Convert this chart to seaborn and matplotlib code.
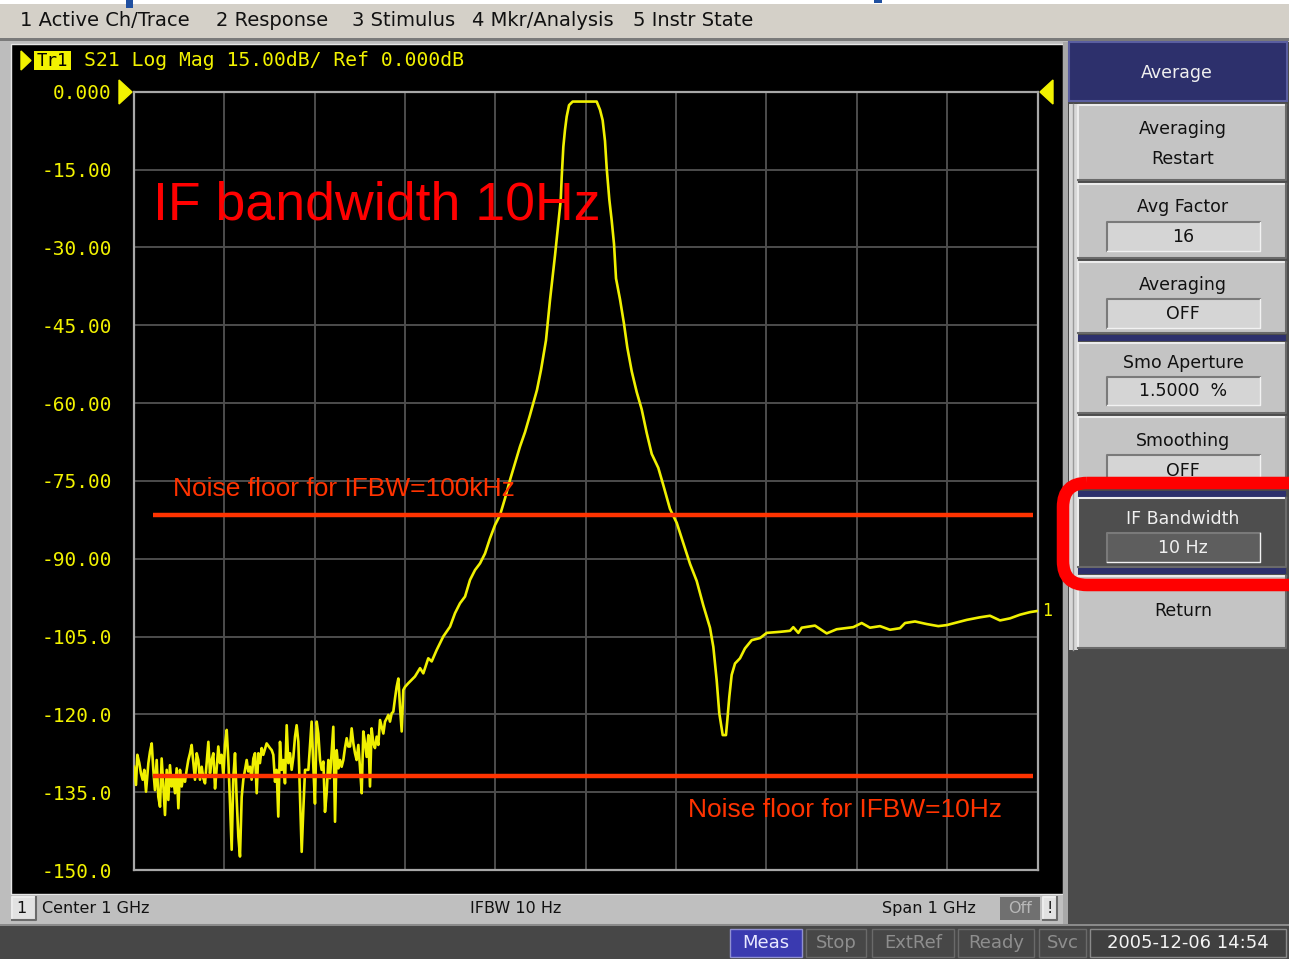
import matplotlib
matplotlib.use("Agg")
import matplotlib.pyplot as plt
from matplotlib.patches import Rectangle, FancyBboxPatch, Polygon
import numpy as np
import pandas as pd
import seaborn as sns

# ---------------------------------------------------------------- data
# S21 sweep, 500 MHz .. 1500 MHz (centre 1 GHz, span 1 GHz), IFBW 10 Hz
noise_lo_mhz = [500.0, 502.2, 503.7, 505.9, 507.7, 509.6, 511.4, 513.3, 515.9, 517.7,
                519.6, 521.4, 523.2, 525.1, 526.9, 528.8, 530.6, 532.5, 534.3, 536.2,
                538.0, 539.8, 541.7, 543.5, 545.4, 547.2, 549.1, 550.9, 552.8, 554.6,
                556.4, 558.3, 560.1, 562.0, 563.8, 565.7, 567.5, 569.4, 571.2, 573.0,
                574.9, 576.7, 578.6, 580.4, 582.3, 584.1, 586.0, 587.8, 589.7, 591.5,
                593.3, 595.2, 597.0, 598.9, 600.7, 602.6, 604.4, 606.3, 608.1, 609.9,
                611.8, 613.6, 615.5, 617.3, 619.2, 621.0, 622.9, 624.7, 626.5, 628.4,
                630.2, 632.1, 633.9, 635.8, 637.6, 639.4, 641.3, 643.1, 646.8]
noise_lo_db = [-130.1, -133.6, -127.8, -129.4, -131.4, -132.6, -130.7, -134.9, -129.4, -127.2,
               -125.6, -130.7, -134.6, -128.8, -135.9, -137.8, -128.5, -133.9, -139.4, -130.7,
               -136.5, -129.8, -133.9, -132.3, -135.2, -130.4, -138.1, -130.7, -133.9, -131.7,
               -133.0, -130.7, -128.8, -127.5, -125.9, -129.4, -132.6, -127.5, -128.8, -132.6,
               -130.1, -132.3, -133.3, -129.4, -125.3, -131.4, -128.8, -127.5, -134.3, -130.4,
               -126.2, -129.4, -127.8, -132.0, -125.9, -123.0, -128.8, -137.2, -146.1, -132.3,
               -127.5, -136.2, -143.6, -147.4, -135.9, -132.6, -130.7, -128.8, -131.0, -130.1,
               -132.6, -128.5, -127.5, -135.2, -127.5, -129.4, -126.5, -127.8, -125.6]

noise_hi_mhz = [650.5, 652.4, 654.2, 656.1, 657.9, 659.7, 661.6, 663.4, 665.3, 667.1,
                669.0, 670.8, 672.7, 674.5, 676.4, 678.2, 680.0, 681.9, 683.7, 685.6,
                687.4, 689.3, 691.1, 693.0, 694.8, 696.6, 698.5, 700.3, 702.2, 704.0,
                705.9, 707.7, 709.6, 711.4, 713.2, 715.1, 716.9, 718.8, 720.6, 722.5,
                724.3, 726.2, 728.0, 729.8, 731.7, 733.5, 735.4, 737.2, 739.1, 740.9,
                742.8, 744.6, 746.4, 748.3, 750.1, 752.0, 753.8, 755.7, 757.5, 759.4,
                761.2, 763.0, 764.9, 766.7, 768.6, 770.4, 772.3, 774.1, 776.0, 777.8,
                779.7, 781.5, 783.3, 785.2, 787.0, 788.9, 790.7, 792.6, 794.4, 796.3,
                798.1, 800.0, 803.6]
noise_hi_db = [-126.5, -126.9, -127.8, -133.0, -130.7, -139.7, -125.3, -130.7, -128.8, -133.3,
               -122.1, -129.4, -127.5, -130.7, -128.2, -124.3, -122.1, -125.3, -135.9, -146.5,
               -138.4, -130.7, -130.7, -130.7, -126.2, -121.4, -130.1, -137.2, -121.4, -123.7,
               -128.8, -130.7, -129.1, -138.8, -135.2, -128.8, -132.3, -127.2, -122.4, -140.7,
               -126.9, -130.4, -128.8, -130.1, -128.8, -126.5, -124.6, -126.2, -126.2, -122.7,
               -125.6, -127.5, -128.8, -125.9, -130.1, -135.2, -123.3, -125.6, -128.2, -124.0,
               -133.9, -122.7, -125.6, -126.5, -124.3, -125.9, -121.1, -122.4, -123.7, -121.4,
               -120.8, -120.1, -121.4, -119.8, -119.5, -116.9, -114.7, -113.1, -118.5, -123.3,
               -115.3, -114.7, -114.0]

filter_mhz = [811.0, 816.6, 820.2, 825.7, 829.5, 835.0, 842.3, 849.8, 855.3, 860.8,
              866.4, 871.9, 877.4, 883.0, 888.5, 894.0, 899.6, 905.1, 910.6, 916.2,
              921.7, 927.2, 932.8, 938.3, 946.0, 950.5, 956.0, 960.4, 966.0, 972.3,
              973.4, 975.2, 977.0, 978.9, 981.5, 985.5, 998.0, 1012.1, 1015.8, 1018.7,
              1021.3, 1023.2, 1026.1, 1028.7, 1031.3, 1033.5, 1037.9, 1042.3, 1046.0, 1050.9,
              1056.4, 1061.9, 1067.5, 1073.0, 1080.3, 1085.8, 1093.2, 1100.7, 1108.0, 1115.4,
              1122.8, 1130.1, 1137.5, 1141.2, 1144.9, 1147.8, 1150.5, 1151.6, 1155.2, 1156.7,
              1158.9, 1161.5, 1165.2, 1170.7, 1176.2, 1183.7, 1192.9, 1200.3, 1215.0, 1226.1,
              1229.7, 1235.3, 1239.0, 1253.7, 1266.7, 1277.7, 1296.1, 1305.4, 1314.6, 1325.7,
              1336.7, 1347.8, 1353.4, 1364.4, 1377.4, 1390.2, 1399.5, 1410.6, 1421.6, 1436.3,
              1447.4, 1458.5, 1469.6, 1480.6, 1491.7, 1499.1]
filter_db = [-112.7, -111.1, -112.1, -109.2, -109.8, -107.6, -105.0, -103.1, -100.5, -98.6,
             -97.3, -94.1, -92.2, -90.9, -89.0, -86.1, -83.5, -81.6, -78.4, -74.8,
             -71.6, -68.4, -65.6, -62.3, -57.5, -53.6, -47.9, -40.2, -31.5, -20.9,
             -16.4, -10.6, -7.4, -4.8, -2.6, -1.9, -1.9, -1.9, -3.5, -5.5,
             -9.5, -14.8, -20.8, -24.8, -29.4, -36.0, -40.0, -44.7, -49.3, -53.9,
             -57.9, -61.2, -65.8, -69.8, -72.5, -75.8, -80.4, -83.1, -87.0, -91.0,
             -94.3, -99.0, -103.3, -107.0, -113.4, -119.8, -122.7, -124.0, -124.0, -121.1,
             -116.6, -112.4, -110.2, -109.2, -107.3, -105.7, -105.3, -104.3, -104.1, -103.9,
             -103.2, -104.3, -103.3, -102.9, -104.4, -103.6, -103.2, -102.4, -103.3, -103.0,
             -103.7, -103.4, -102.4, -102.1, -102.6, -103.0, -102.8, -102.3, -101.8, -101.3,
             -101.0, -101.9, -101.5, -100.8, -100.3, -100.1]

# noise floor levels (dB) and the span they are drawn over (MHz)
floor_100khz_db = -81.6
floor_10hz_db = -131.8
floor_span_mhz = [521.0, 1495.0]

y_ticks = [0, -15, -30, -45, -60, -75, -90, -105, -120, -135, -150]
y_tick_labels = ["0.000", "-15.00", "-30.00", "-45.00", "-60.00", "-75.00",
                 "-90.00", "-105.0", "-120.0", "-135.0", "-150.0"]
x_grid_mhz = [500, 600, 700, 800, 900, 1000, 1100, 1200, 1300, 1400, 1500]

menu_items = ["1 Active Ch/Trace", "2 Response", "3 Stimulus", "4 Mkr/Analysis", "5 Instr State"]
status_items = ["Stop", "ExtRef", "Ready", "Svc"]

# ---------------------------------------------------------------- figure
W, H = 1289, 959
fig = plt.figure(figsize=(W / 100, H / 100), dpi=100)
fig.patch.set_facecolor("#bdbdbd")

bg = fig.add_axes([0, 0, 1, 1])
bg.set_xlim(0, W)
bg.set_ylim(H, 0)
bg.axis("off")
bg.set_zorder(0)

UI = "DejaVu Sans"
MONO = "DejaVu Sans Mono"
YEL = "#f2f200"


def box(x0, y0, x1, y1, fc, ec="none", lw=0.0, z=1):
    bg.add_patch(Rectangle((x0, y0), x1 - x0, y1 - y0, facecolor=fc,
                           edgecolor=ec, linewidth=lw, zorder=z))


def bevel(x0, y0, x1, y1, fc, light="#ececec", dark="#6a6a6a", z=1):
    box(x0, y0, x1, y1, fc, z=z)
    bg.plot([x0, x0, x1], [y1, y0, y0], color=light, lw=1.5, zorder=z + 0.1)
    bg.plot([x0, x1, x1], [y1, y1, y0], color=dark, lw=1.5, zorder=z + 0.1)


def label(x, y, s, size=12.5, color="#111111", ha="center", family=UI, z=5, **kw):
    bg.text(x, y, s, fontsize=size, color=color, ha=ha, va="center",
            family=family, zorder=z, **kw)


# menu bar
box(0, 0, W, 4, "white")
box(0, 4, W, 38, "#d4d0c8")
box(0, 38, W, 41, "#7a7a7a")
box(126, 0, 133, 8, "#1f4fa0", z=2)
box(874, 0, 882, 3, "#1f4fa0", z=2)
menu_x = [20, 216, 352, 472, 633]
for mx, item in zip(menu_x, menu_items):
    label(mx, 21, item, size=14, ha="left")

# black measurement window
box(11, 44, 1063, 894, "black", ec="#e6e6e6", lw=1.0)

# header line
bg.add_patch(Polygon([(21, 51), (21, 70), (31, 60.5)], closed=True, color=YEL, zorder=3))
box(34, 51, 71, 70, YEL, z=3)
label(52.5, 60.5, "Tr1", size=12.5, color="black", family=MONO)
label(84, 60.5, "S21 Log Mag 15.00dB/ Ref 0.000dB", size=14.2, color=YEL, ha="left", family=MONO)

# reference position markers
bg.add_patch(Polygon([(119, 80), (119, 104), (132, 92)], closed=True, color=YEL, zorder=3))
bg.add_patch(Polygon([(1053, 80), (1053, 104), (1040, 92)], closed=True, color=YEL, zorder=3))

# channel status bar
box(10, 895, 1063, 923, "#bfbfbf")
bevel(12, 897, 36, 920, "#e2e2e2")
label(21, 908.5, "1", size=11.5)
label(42, 908.5, "Center 1 GHz", size=11.5, ha="left")
label(470, 908.5, "IFBW 10 Hz", size=11.5, ha="left")
label(976, 908.5, "Span 1 GHz", size=11.5, ha="right")
box(1000, 897, 1040, 920, "#707070")
label(1020, 908.5, "Off", size=11.5, color="#b8b8b8")
bevel(1043, 897, 1057, 920, "#e2e2e2")
label(1050, 908.5, "!", size=11.5)

# instrument status bar
box(0, 924, W, H, "#474747")
box(0, 924, W, 926, "#8a8a8a")
box(730, 929, 802, 957, "#3a3ab0", ec="#9090d0", lw=1)
label(766, 943, "Meas", size=13, color="#e8e8ff")
st_box = [(806, 866), (872, 954), (958, 1034), (1039, 1086)]
for (sx0, sx1), s in zip(st_box, status_items):
    box(sx0, 929, sx1, 957, "none", ec="#6a6a6a", lw=1, z=2)
    label((sx0 + sx1) / 2, 943, s, size=13, color="#8e8e8e")
box(1090, 929, 1286, 957, "#404040", ec="#8a8a8a", lw=1, z=2)
label(1188, 943, "2005-12-06 14:54", size=13, color="#f4f4f4")

# softkey panel
box(1063, 42, W, 924, "#4b4b4b")
box(1063, 42, 1068, 924, "#a8a8a8")
box(1069, 42, 1287, 101, "#2d306c", ec="#5a5ea0", lw=1.5)
label(1177, 73, "Average", size=12.5, color="#f0f0f0")
box(1069, 104, 1078, 650, "#d8d8d8")
bg.plot([1073, 1073], [104, 650], color="#9a9a9a", lw=1, zorder=2)

btn = "#c4c4c4"
field = "#d5d5d5"


def key(y0, y1, lines, fc=btn, color="#111111"):
    bevel(1078, y0, 1286, y1, fc)
    for ly, s in lines:
        label(1183, ly, s, color=color)


def entry(y0, y1, s, fc=field, color="#111111"):
    box(1107, y0, 1260, y1, fc, z=2)
    bg.plot([1107, 1107, 1260], [y1, y0, y0], color="#7a7a7a", lw=1.5, zorder=2.1)
    bg.plot([1107, 1260, 1260], [y1, y1, y0], color="#f2f2f2", lw=1.0, zorder=2.1)
    label(1183, (y0 + y1) / 2 + 0.5, s, color=color)


key(105, 180, [(129, "Averaging"), (159, "Restart")])
key(184, 258, [(207, "Avg Factor")])
entry(222, 251, "16")
key(262, 333, [(285, "Averaging")])
entry(299, 328, "OFF")
box(1078, 335, 1286, 341, "#2d306c")
key(343, 413, [(363, "Smo Aperture")])
entry(377, 405, "1.5000  %")
key(417, 487, [(441, "Smoothing")])
entry(455, 485, "OFF")
box(1078, 491, 1286, 497, "#2d306c")
key(498, 567, [(519, "IF Bandwidth")], fc="#4e4e4e", color="#f0f0f0")
entry(533, 562, "10 Hz", fc="#5e5e5e", color="#f0f0f0")
box(1078, 568, 1286, 574, "#2d306c")
key(576, 648, [(611, "Return")])

# highlight around the IF Bandwidth key
bg.add_patch(FancyBboxPatch((1063, 483), 260, 102,
                            boxstyle="round,pad=0,rounding_size=24",
                            facecolor="none", edgecolor="#ff0000",
                            linewidth=9, zorder=6, clip_on=True))

# ---------------------------------------------------------------- trace
left, right, top, bottom = 134, 1037.5, 91.7, 870
ax = fig.add_axes([left / W, (H - bottom) / H, (right - left) / W, (bottom - top) / H])
ax.set_zorder(2)
ax.set_facecolor("black")

trace = pd.DataFrame({
    "MHz": noise_lo_mhz + noise_hi_mhz + filter_mhz,
    "dB": noise_lo_db + noise_hi_db + filter_db,
})
sns.lineplot(data=trace, x="MHz", y="dB", ax=ax, color="#f0f000", linewidth=1.9,
             estimator=None, sort=False, legend=False, zorder=4)

ax.hlines([floor_100khz_db, floor_10hz_db], floor_span_mhz[0], floor_span_mhz[1],
          color="#ff3300", linewidth=3.2, zorder=5)

ax.set_xlim(500, 1500)
ax.set_ylim(-150, 0)
ax.set_xticks(x_grid_mhz)
ax.set_yticks(y_ticks)
ax.set_yticklabels(y_tick_labels, family=MONO, fontsize=14, color=YEL)
ax.tick_params(axis="both", length=0, labelbottom=False, pad=16)
ax.grid(True, color="#4d4d4d", linewidth=1.4)
ax.set_axisbelow(True)
for sp in ax.spines.values():
    sp.set_color("#a8a8a8")
    sp.set_linewidth(1.6)
ax.set_xlabel("")
ax.set_ylabel("")

ax.annotate("1", xy=(filter_mhz[-1], filter_db[-1]), xytext=(4, 0),
            textcoords="offset points", color=YEL, family=MONO, fontsize=12,
            va="center", ha="left", annotation_clip=False)

ax.text(521, -22.0, "IF bandwidth 10Hz", color="#ff0000", fontsize=38.6,
        family="Liberation Sans", va="center", ha="left", zorder=6)
ax.text(543, -76.6, "Noise floor for IFBW=100kHz", color="#ff3300", fontsize=19,
        family="Liberation Sans", va="center", ha="left", zorder=6)
ax.text(1113, -138.4, "Noise floor for IFBW=10Hz", color="#ff3300", fontsize=19,
        family="Liberation Sans", va="center", ha="left", zorder=6)

fig.savefig("out.png", dpi=100, facecolor=fig.get_facecolor())
